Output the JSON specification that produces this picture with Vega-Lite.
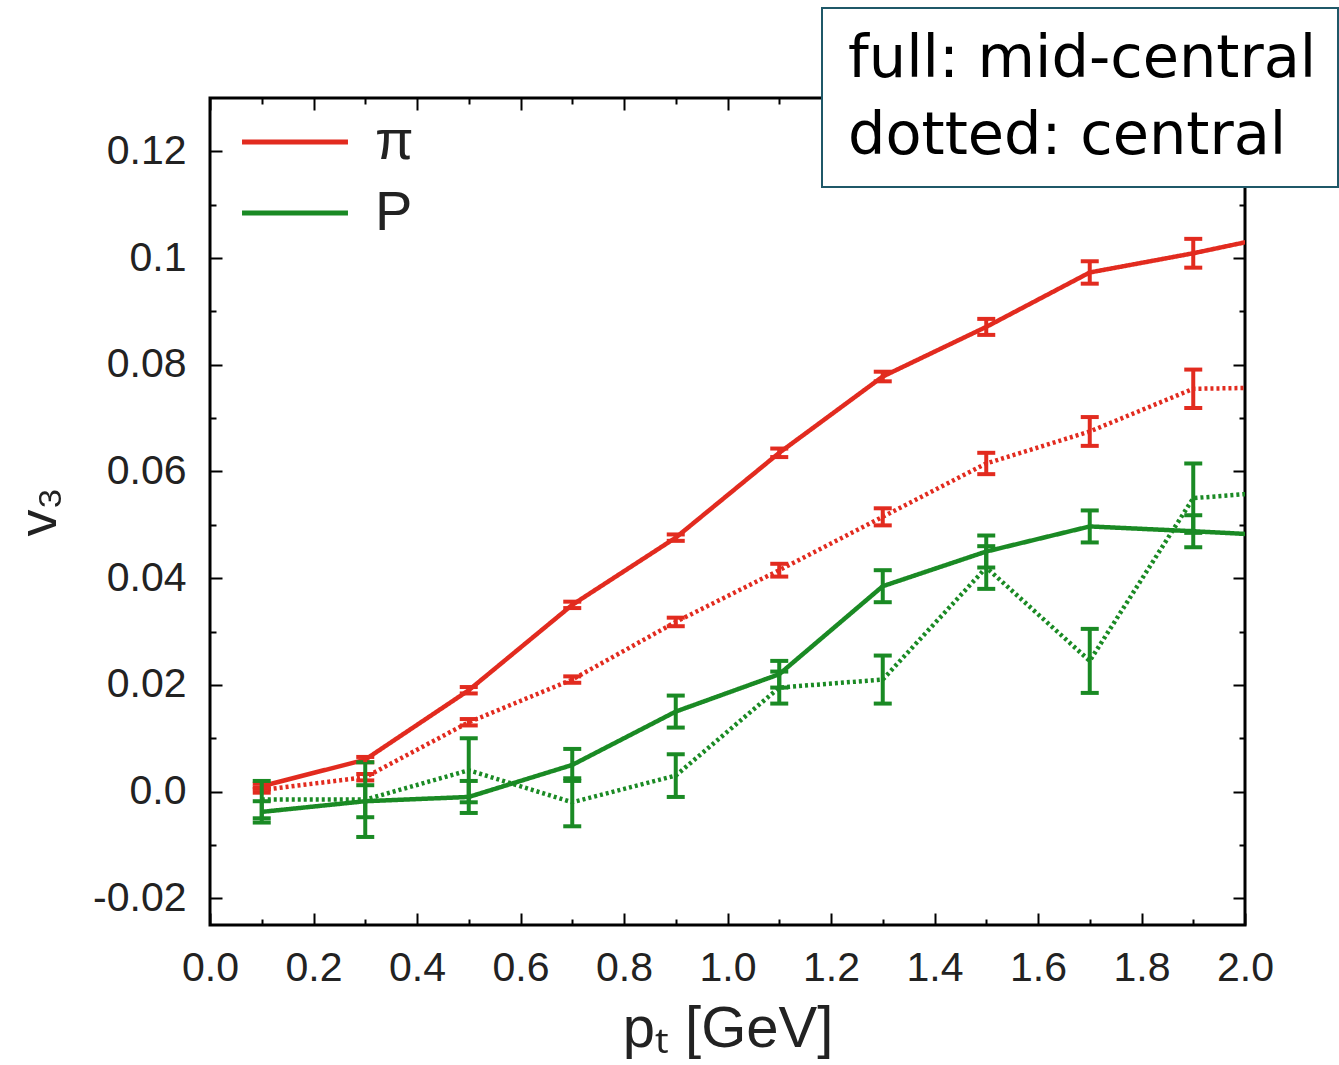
{
  "$schema": "https://vega.github.io/schema/vega-lite/v6.json",
  "width": 1035,
  "height": 827,
  "autosize": {"type": "none"},
  "padding": {"left": 210, "top": 98, "right": 94, "bottom": 140},
  "background": "white",
  "config": {
    "view": {"stroke": "black", "strokeWidth": 3},
    "legend": {"strokeWidth": 2},
    "tick": {"opacity": 1},
    "axis": {"grid": false, "domain": false, "tickColor": "black", "tickWidth": 2, "labelFont": "Liberation Sans", "labelColor": "#222", "titleFont": "Liberation Sans", "titleFontWeight": "normal", "titleColor": "#222", "labelFlush": false, "labelOverlap": false}
  },
  "data": {
    "values": [
      {"species": "π", "cent": "full: mid-central", "pt": 0.1, "v3": 0.001, "err": 0.0005},
      {"species": "π", "cent": "full: mid-central", "pt": 0.3, "v3": 0.006, "err": 0.0005},
      {"species": "π", "cent": "full: mid-central", "pt": 0.5, "v3": 0.019, "err": 0.0006},
      {"species": "π", "cent": "full: mid-central", "pt": 0.7, "v3": 0.035, "err": 0.0006},
      {"species": "π", "cent": "full: mid-central", "pt": 0.9, "v3": 0.0476, "err": 0.0006},
      {"species": "π", "cent": "full: mid-central", "pt": 1.1, "v3": 0.0635, "err": 0.0008},
      {"species": "π", "cent": "full: mid-central", "pt": 1.3, "v3": 0.0778, "err": 0.0009},
      {"species": "π", "cent": "full: mid-central", "pt": 1.5, "v3": 0.0871, "err": 0.0015},
      {"species": "π", "cent": "full: mid-central", "pt": 1.7, "v3": 0.0973, "err": 0.0021},
      {"species": "π", "cent": "full: mid-central", "pt": 1.9, "v3": 0.1009, "err": 0.0027},
      {"species": "π", "cent": "full: mid-central", "pt": 2.1, "v3": 0.105, "err": null},
      {"species": "π", "cent": "dotted: central", "pt": 0.1, "v3": 0.0003, "err": 0.0005},
      {"species": "π", "cent": "dotted: central", "pt": 0.3, "v3": 0.0027, "err": 0.0006},
      {"species": "π", "cent": "dotted: central", "pt": 0.5, "v3": 0.013, "err": 0.0006},
      {"species": "π", "cent": "dotted: central", "pt": 0.7, "v3": 0.021, "err": 0.0006},
      {"species": "π", "cent": "dotted: central", "pt": 0.9, "v3": 0.0318, "err": 0.0008},
      {"species": "π", "cent": "dotted: central", "pt": 1.1, "v3": 0.0415, "err": 0.0012},
      {"species": "π", "cent": "dotted: central", "pt": 1.3, "v3": 0.0515, "err": 0.0016},
      {"species": "π", "cent": "dotted: central", "pt": 1.5, "v3": 0.0615, "err": 0.002},
      {"species": "π", "cent": "dotted: central", "pt": 1.7, "v3": 0.0675, "err": 0.0027},
      {"species": "π", "cent": "dotted: central", "pt": 1.9, "v3": 0.0755, "err": 0.0036},
      {"species": "π", "cent": "dotted: central", "pt": 2.1, "v3": 0.0758, "err": null},
      {"species": "P", "cent": "full: mid-central", "pt": 0.1, "v3": -0.0038, "err": 0.002},
      {"species": "P", "cent": "full: mid-central", "pt": 0.3, "v3": -0.0018, "err": 0.003},
      {"species": "P", "cent": "full: mid-central", "pt": 0.5, "v3": -0.001, "err": 0.003},
      {"species": "P", "cent": "full: mid-central", "pt": 0.7, "v3": 0.005, "err": 0.003},
      {"species": "P", "cent": "full: mid-central", "pt": 0.9, "v3": 0.015, "err": 0.003},
      {"species": "P", "cent": "full: mid-central", "pt": 1.1, "v3": 0.022, "err": 0.0025},
      {"species": "P", "cent": "full: mid-central", "pt": 1.3, "v3": 0.0385, "err": 0.003},
      {"species": "P", "cent": "full: mid-central", "pt": 1.5, "v3": 0.045, "err": 0.003},
      {"species": "P", "cent": "full: mid-central", "pt": 1.7, "v3": 0.0497, "err": 0.003},
      {"species": "P", "cent": "full: mid-central", "pt": 1.9, "v3": 0.0488, "err": 0.003},
      {"species": "P", "cent": "full: mid-central", "pt": 2.1, "v3": 0.0478, "err": null},
      {"species": "P", "cent": "dotted: central", "pt": 0.1, "v3": -0.0015, "err": 0.0035},
      {"species": "P", "cent": "dotted: central", "pt": 0.3, "v3": -0.0015, "err": 0.007},
      {"species": "P", "cent": "dotted: central", "pt": 0.5, "v3": 0.004, "err": 0.006},
      {"species": "P", "cent": "dotted: central", "pt": 0.7, "v3": -0.002, "err": 0.0045},
      {"species": "P", "cent": "dotted: central", "pt": 0.9, "v3": 0.003, "err": 0.004},
      {"species": "P", "cent": "dotted: central", "pt": 1.1, "v3": 0.0195, "err": 0.003},
      {"species": "P", "cent": "dotted: central", "pt": 1.3, "v3": 0.021, "err": 0.0045},
      {"species": "P", "cent": "dotted: central", "pt": 1.5, "v3": 0.042, "err": 0.004},
      {"species": "P", "cent": "dotted: central", "pt": 1.7, "v3": 0.0245, "err": 0.006},
      {"species": "P", "cent": "dotted: central", "pt": 1.9, "v3": 0.055, "err": 0.0065},
      {"species": "P", "cent": "dotted: central", "pt": 2.1, "v3": 0.0565, "err": null}
    ]
  },
  "resolve": {"axis": {"x": "independent", "y": "independent"}},
  "layer": [
    {
      "mark": {"type": "line", "strokeWidth": 4.5, "clip": true},
      "encoding": {
        "x": {"field": "pt", "type": "quantitative", "scale": {"domain": [0, 2], "nice": false, "zero": false},
          "axis": {"orient": "bottom", "values": [0,0.1,0.2,0.3,0.4,0.5,0.6,0.7,0.8,0.9,1.0,1.1,1.2,1.3,1.4,1.5,1.6,1.7,1.8,1.9,2.0],
            "labelExpr": "round(datum.value*10)%2==0 ? format(datum.value, '.1f') : ''",
            "tickSize": {"condition": {"test": "round(datum.value*10)%2==0", "value": -12}, "value": -6},
            "labelFontSize": 41, "labelPadding": 35, "title": "pₜ [GeV]", "titleFontSize": 58, "titlePadding": 6}},
        "y": {"field": "v3", "type": "quantitative", "scale": {"domain": [-0.025, 0.13], "nice": false, "zero": false},
          "axis": {"orient": "left", "values": [-0.02,-0.01,0,0.01,0.02,0.03,0.04,0.05,0.06,0.07,0.08,0.09,0.1,0.11,0.12],
            "labelExpr": "round(datum.value*100)%2!=0 ? '' : (datum.value==0 ? '0.0' : replace(format(datum.value, '.2~f'), '−', '-'))",
            "tickSize": {"condition": {"test": "round(datum.value*100)%2==0", "value": -12}, "value": -6},
            "labelFontSize": 41, "labelPadding": 36, "title": "v₃", "titleFontSize": 54, "titlePadding": 26}},
        "color": {"field": "species", "type": "nominal", "scale": {"domain": ["π", "P"], "range": ["#e22b1f", "#1a8a24"]},
          "legend": {"orient": "none", "legendX": 57, "legendY": 16, "title": null, "symbolType": "M-5,0H5", "symbolSize": 449, "symbolStrokeWidth": 5, "symbolOpacity": 1, "labelFont": "Liberation Sans", "labelFontSize": 56, "labelColor": "#222", "labelOffset": 52, "rowPadding": 15, "padding": 0}},
        "strokeDash": {"field": "cent", "type": "nominal", "scale": {"domain": ["full: mid-central", "dotted: central"], "range": [[1, 0], [3, 3]]},
          "legend": {"orient": "none", "legendX": 612, "legendY": -90, "title": null, "symbolOpacity": 0, "symbolSize": 0, "symbolStrokeWidth": 0, "labelFont": "DejaVu Sans", "labelFontSize": 59, "labelColor": "black", "labelOffset": -54, "labelLimit": 2000, "rowPadding": 17, "padding": 21, "fillColor": "white", "strokeColor": "#1f5868"}},
        "detail": {"field": "cent"}
      }
    },
    {
      "transform": [{"filter": "datum.pt < 2"}],
      "mark": {"type": "errorbar", "ticks": {"opacity": 1}, "size": 18, "thickness": 4},
      "encoding": {
        "x": {"field": "pt", "type": "quantitative",
          "axis": {"orient": "top", "values": [0,0.1,0.2,0.3,0.4,0.5,0.6,0.7,0.8,0.9,1.0,1.1,1.2,1.3,1.4,1.5,1.6,1.7,1.8,1.9,2.0], "labels": false, "title": null,
            "tickSize": {"condition": {"test": "round(datum.value*10)%2==0", "value": -12}, "value": -6}}},
        "y": {"field": "v3", "type": "quantitative",
          "axis": {"orient": "right", "values": [-0.02,-0.01,0,0.01,0.02,0.03,0.04,0.05,0.06,0.07,0.08,0.09,0.1,0.11,0.12], "labels": false, "title": null,
            "tickSize": {"condition": {"test": "round(datum.value*100)%2==0", "value": -12}, "value": -6}}},
        "yError": {"field": "err"},
        "color": {"field": "species", "type": "nominal"}
      }
    }
  ]
}
